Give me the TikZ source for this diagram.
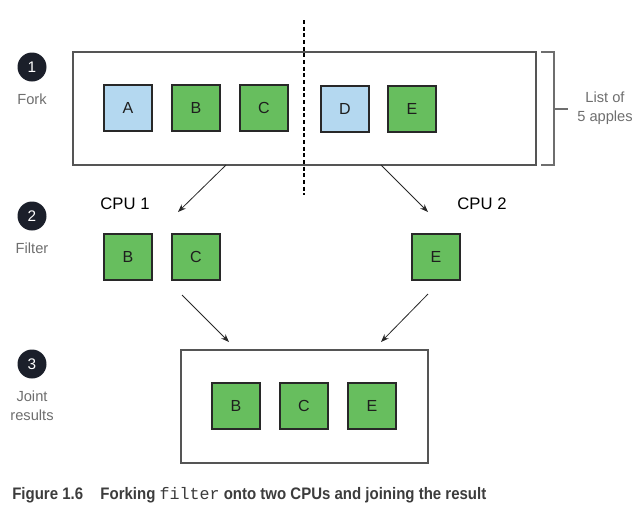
\documentclass[tikz,border=0pt]{standalone}
\usepackage{fontspec}
\usepackage{tikz}
\usetikzlibrary{arrows.meta}
\setmainfont{Liberation Sans}
\newfontfamily\capfont[FakeStretch=0.9]{Liberation Sans}
\newfontfamily\capmono{Liberation Mono}
\definecolor{appleblue}{RGB}{180,216,240}
\definecolor{applegreen}{RGB}{103,190,94}
\definecolor{stepnavy}{RGB}{27,31,42}
\definecolor{labelgray}{RGB}{110,110,110}
\definecolor{captiongray}{RGB}{60,60,60}
\begin{document}
\begin{tikzpicture}[x=0.75pt,y=0.75pt,yscale=-1,xscale=1,
  apple/.style={draw={rgb,255:red,40;green,40;blue,40},line width=1pt,minimum width=36pt,minimum height=34.5pt,inner sep=0pt,font=\fontsize{12}{13}\selectfont,text={rgb,255:red,30;green,30;blue,30}},
  bluapple/.style={apple,fill=appleblue},
  grnapple/.style={apple,fill=applegreen},
  stepdot/.style={circle,fill=stepnavy,minimum size=21.75pt,inner sep=0pt,text=white,font=\fontsize{11.5}{13}\selectfont},
  steplabel/.style={text=labelgray,font=\fontsize{11}{14}\selectfont,align=center,inner sep=0pt},
  cpulabel/.style={font=\fontsize{12.5}{14}\selectfont,inner sep=0pt},
  listbox/.style={draw={rgb,255:red,85;green,85;blue,85},line width=1pt},
  flow/.style={-{Stealth[length=6pt,width=4.5pt]},line width=0.6pt,draw={rgb,255:red,40;green,40;blue,40}}]
  \useasboundingbox (0,0) rectangle (641,512);

  %Shape: Rectangle [id:fork box]
  \draw [listbox] (73,52) rectangle (536,165) ;
  %Shape: Rectangle [id:join box]
  \draw [listbox] (181,350) rectangle (428,463) ;
  %Straight Lines [id:split]
  \draw [line width=0.8pt,dash pattern=on 3pt off 2pt] (304,20) -- (304,195) ;
  %Shape: Bracket [id:list bracket]
  \draw [labelgray,line width=0.8pt] (541,52) -- (554,52) -- (554,165) -- (541,165) ;
  \draw [labelgray,line width=0.8pt] (554,109) -- (568,109) ;

  % Step Nodes
  \node [stepdot] (one) at (32,67) {1};
  \node [stepdot] (two) at (32,216) {2};
  \node [stepdot] (three) at (32,364) {3};
  \node [steplabel] (fork) at (32,99) {Fork};
  \node [steplabel] (filter) at (32,248) {Filter};
  \node [steplabel] (joint) at (32,406) {Joint\\results};
  \node [steplabel] (applist) at (605,108) {List of\\5 apples};

  % Apple Nodes
  \node [bluapple] (fA) at (128,108) {A};
  \node [grnapple] (fB) at (196,108) {B};
  \node [grnapple] (fC) at (264,108) {C};
  \node [bluapple] (fD) at (345,109) {D};
  \node [grnapple] (fE) at (412,109) {E};
  \node [grnapple] (cB) at (128,257) {B};
  \node [grnapple] (cC) at (196,257) {C};
  \node [grnapple] (cE) at (436,257) {E};
  \node [grnapple] (jB) at (236,406) {B};
  \node [grnapple] (jC) at (304,406) {C};
  \node [grnapple] (jE) at (372,406) {E};

  % Text Node
  \node [cpulabel] (cpuone) at (125,204) {CPU 1};
  \node [cpulabel] (cputwo) at (482,204) {CPU 2};

  % Arrows
  \coordinate (outone) at (226,165);
  \coordinate (outtwo) at (381,165);
  \coordinate (inone) at (178,212);
  \coordinate (intwo) at (428,212);
  \coordinate (backone) at (182,295);
  \coordinate (backtwo) at (428,294);
  \coordinate (joinone) at (229,342);
  \coordinate (jointwo) at (381,342);
  \draw [flow] (outone) -- (inone) ;
  \draw [flow] (outtwo) -- (intwo) ;
  \draw [flow] (backone) -- (joinone) ;
  \draw [flow] (backtwo) -- (jointwo) ;

  % Caption
  \node [anchor=west,inner sep=0pt,text=captiongray] (caption) at (12,495) {\fontsize{12.5}{14}\selectfont\capfont\bfseries Figure 1.6\hspace{13pt}Forking {\capmono\mdseries filter} onto two CPUs and joining the result};
\end{tikzpicture}
\end{document}
